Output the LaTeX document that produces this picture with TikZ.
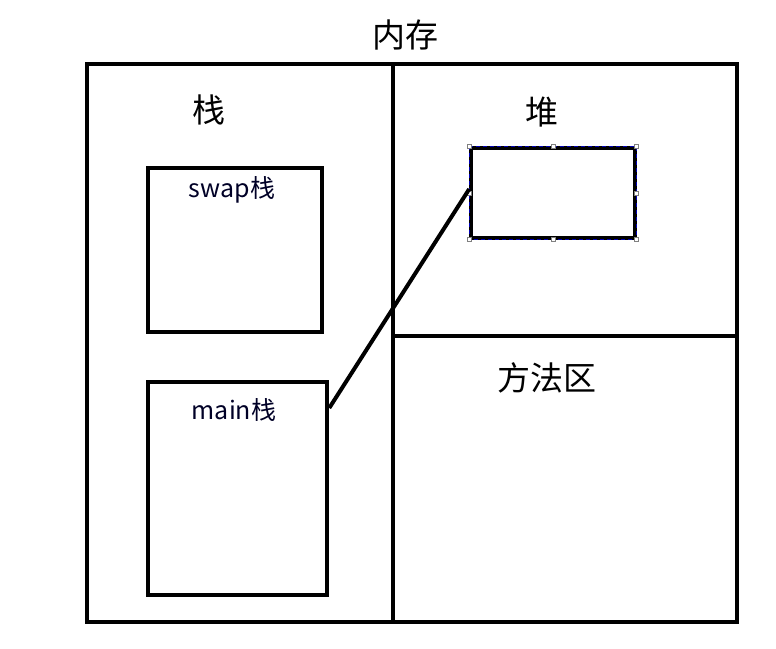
\documentclass[tikz,border=0pt]{standalone}
\usepackage{fontspec}
\newfontfamily\cjk{Noto Sans CJK SC}
\tikzset{
    wall/.style={line width=4.5pt, draw=black},
    title/.style={font=\cjk\fontsize{33}{37}\selectfont, text=black},
    label/.style={font=\cjk\fontsize{25}{29}\selectfont, text=black!85!blue},
    handle/.style={draw=gray, fill=white, line width=0.6pt, minimum size=4pt, inner sep=0pt}
}
\begin{document}
\begin{tikzpicture}[x=1pt, y=-1pt]
        \useasboundingbox (0,0) rectangle (776,648);
        % memory frame and its parts
        \draw[wall] (87,64) rectangle (737,622);
        \draw[wall] (393,64) -- (393,622);
        \draw[wall] (393,336) -- (737,336);

        \node[title] (mem) at (405,35) {内存};
        \node[title] (stack) at (209,110) {栈};
        \node[title] (heap) at (542,112) {堆};
        \node[title] (method) at (547,378) {方法区};

        % stack frames
        \node[wall, minimum width=174pt, minimum height=164pt, inner sep=0pt] (swap) at (235,250) {};
        \node[label] at (232,190) {swap栈};
        \node[wall, minimum width=179pt, minimum height=213pt, inner sep=0pt] (main) at (237.5,488.5) {};
        \node[label] at (234,410) {main栈};

        % object on the heap
        \node[draw=black, line width=3.5pt, minimum width=164pt, minimum height=90pt, inner sep=0pt] (obj) at (553,193) {};
        \draw[blue!70!black, line width=0.6pt, dash pattern=on 4pt off 3pt] (obj.north west) rectangle (obj.south east);
        \foreach \a in {north west, north, north east, east, south east, south, south west, west}
            \node[handle] at (obj.\a) {};

        \draw[line width=4pt] (main.east |- 0,408) -- ([yshift=4pt]obj.west);
\end{tikzpicture}
\end{document}
